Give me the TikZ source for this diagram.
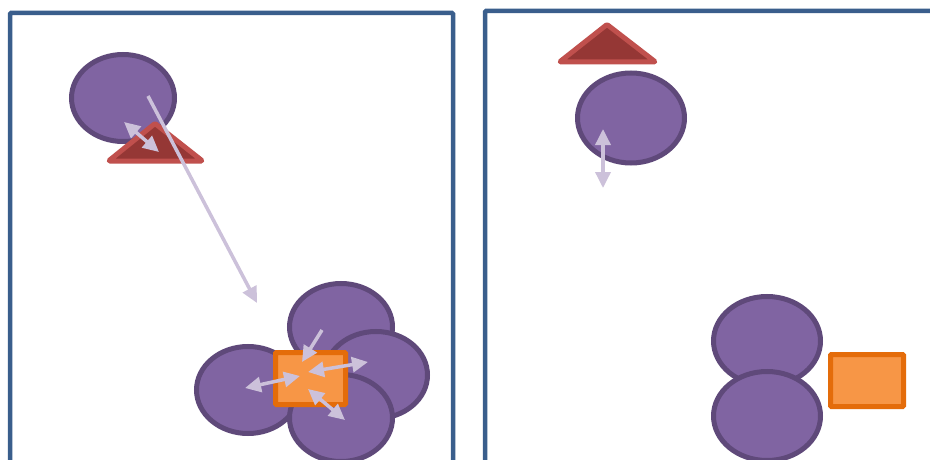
\documentclass[tikz,border=0pt]{standalone}
\usetikzlibrary{arrows.meta,shapes.geometric}
\definecolor{frameblue}{HTML}{3A5E8C}
\definecolor{ellfill}{HTML}{8064A2}
\definecolor{elldraw}{HTML}{5F497A}
\definecolor{trifill}{HTML}{953735}
\definecolor{tridraw}{HTML}{C0504D}
\definecolor{recfill}{HTML}{F79646}
\definecolor{recdraw}{HTML}{E46C0A}
\definecolor{arrcol}{HTML}{CCC1DA}
\tikzset{
  frame/.style={draw=frameblue, line width=4.5pt, rounded corners=1pt},
  blob/.style={ellipse, draw=elldraw, fill=ellfill, line width=5pt, minimum width=103pt, minimum height=87pt, inner sep=0pt},
  tri/.style={draw=tridraw, fill=trifill, line width=5pt, line join=round, rounded corners=1pt},
  box/.style={draw=recdraw, fill=recfill, line width=5pt, rounded corners=1pt},
  arr/.style={draw=arrcol, line width=3.5pt, -{Triangle[length=16pt,width=15pt]}},
  darr/.style={draw=arrcol, line width=3.5pt, {Triangle[length=16pt,width=15pt]}-{Triangle[length=16pt,width=15pt]}}
}
\begin{document}
\begin{tikzpicture}[x=1pt,y=-1pt]
\useasboundingbox (0,0) rectangle (930,460);
\clip (0,0) rectangle (930,460);
\fill[white] (0,0) rectangle (930,460);
% frames
\draw[frame] (10,480) -- (10,13) -- (453,13) -- (453,480);
\draw[frame] (485,480) -- (485,11) -- (945,11);
% left panel top
\node[blob] (e1) at (123,98) {};
\draw[tri] (155,123.5) -- (202.5,161) -- (108.5,161) -- cycle;
\coordinate (a1s) at (124,122); \coordinate (a1e) at (159,152);
\draw[darr] (a1s) -- (a1e);
\coordinate (a2s) at (148,96); \coordinate (a2e) at (257,303);
\draw[arr] (a2s) -- (a2e);
% cluster
\node[blob] (cl) at (248,390) {};
\node[blob] (ct) at (341,327) {};
\node[blob] (cr) at (376,375) {};
\node[blob] (cb) at (341,418) {};
\node[box, minimum width=70pt, minimum height=52pt, inner sep=0pt] (r1) at (310.5,378.5) {};
\coordinate (b1s) at (322,330); \coordinate (b1e) at (302,362);
\draw[arr] (b1s) -- (b1e);
\coordinate (b2s) at (245,388); \coordinate (b2e) at (300,376);
\draw[darr] (b2s) -- (b2e);
\coordinate (b3s) at (308,372); \coordinate (b3e) at (368,362);
\draw[darr] (b3s) -- (b3e);
\coordinate (b4s) at (308,389); \coordinate (b4e) at (345,420);
\draw[darr] (b4s) -- (b4e);
% right panel
\draw[tri] (607,24.5) -- (655.5,62) -- (559.5,62) -- cycle;
\node[blob, minimum width=107pt, minimum height=90pt] (e2) at (631,118) {};
\coordinate (c1s) at (603,129); \coordinate (c1e) at (603,188);
\draw[darr] (c1s) -- (c1e);
\node[blob, minimum width=107pt, minimum height=89pt] (e3) at (767,341) {};
\node[blob, minimum width=107pt, minimum height=89pt] (e4) at (767,416) {};
\node[box, minimum width=73pt, minimum height=52pt, inner sep=0pt] (r2) at (867,380.5) {};
\end{tikzpicture}
\end{document}
